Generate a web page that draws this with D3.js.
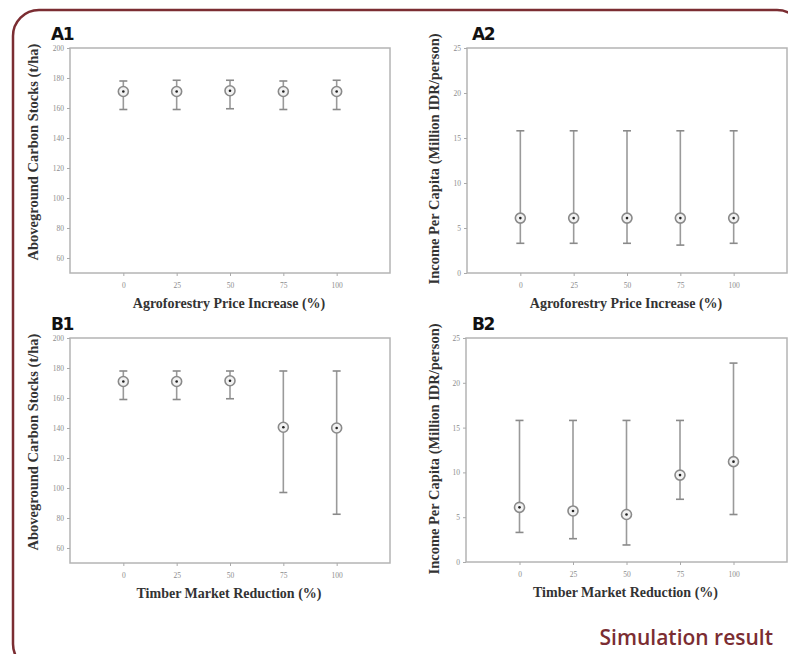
<!DOCTYPE html>
<html>
<head>
<meta charset="utf-8">
<script src="https://cdn.jsdelivr.net/npm/d3@7"></script>
<style>
  body { margin: 0; background: #fff; }
</style>
</head>
<body>
<div id="chart"></div>
<script>
// scenario levels (%)
var levels = [0, 25, 50, 75, 100];

// A1: carbon stocks, agroforestry price increase
var a1Mean = [171, 171, 171.5, 171, 171];
var a1Upper = [178, 178.5, 178.5, 178, 178.5];
var a1Lower = [159, 159, 159.5, 159, 159];

// A2: income per capita, agroforestry price increase
var a2Mean = [6.1, 6.1, 6.1, 6.1, 6.1];
var a2Upper = [15.8, 15.8, 15.8, 15.8, 15.8];
var a2Lower = [3.3, 3.3, 3.3, 3.1, 3.3];

// B1: carbon stocks, timber market reduction
var b1Mean = [171, 171, 171.5, 140.5, 140];
var b1Upper = [178, 178, 178, 178, 178];
var b1Lower = [159, 159, 159.5, 97, 82.5];

// B2: income per capita, timber market reduction
var b2Mean = [6.1, 5.7, 5.3, 9.7, 11.2];
var b2Upper = [15.8, 15.8, 15.8, 15.8, 22.2];
var b2Lower = [3.3, 2.6, 1.9, 7.0, 5.3];

var carbonTicks = [60, 80, 100, 120, 140, 160, 180, 200];
var incomeTicks = [0, 5, 10, 15, 20, 25];

var carbonTitle = "Aboveground Carbon Stocks (t/ha)";
var incomeTitle = "Income Per Capita (Million IDR/person)";
var priceTitle = "Agroforestry Price Increase (%)";
var timberTitle = "Timber Market Reduction (%)";

var W = 788, H = 654;
var svg = d3.select("#chart")
    .append("svg")
      .attr("width", W)
      .attr("height", H);

// frame around the slide
svg.append("rect")
    .attr("x", 13)
    .attr("y", 10)
    .attr("width", 790)
    .attr("height", 660)
    .attr("rx", 26)
    .attr("fill", "none")
    .attr("stroke", "#7b2d32")
    .attr("stroke-width", 2.5);

svg.append("text")
    .attr("x", 773)
    .attr("y", 645)
    .attr("text-anchor", "end")
    .style("font-family", "'Open Sans', sans-serif")
    .style("font-weight", 600)
    .style("font-size", "21px")
    .style("fill", "#7b2d32")
    .text("Simulation result");

var panels = [
  {label: "A1", left: 70, top: 48, w: 320, h: 225, domain: [50, 200], ticks: carbonTicks,
   mean: a1Mean, upper: a1Upper, lower: a1Lower, ytitle: carbonTitle, xtitle: priceTitle, ytx: 38, yty: 152},
  {label: "A2", left: 467, top: 48, w: 320, h: 225, domain: [0, 25], ticks: incomeTicks,
   mean: a2Mean, upper: a2Upper, lower: a2Lower, ytitle: incomeTitle, xtitle: priceTitle, ytx: 439, yty: 159},
  {label: "B1", left: 70, top: 338, w: 320, h: 225, domain: [50, 200], ticks: carbonTicks,
   mean: b1Mean, upper: b1Upper, lower: b1Lower, ytitle: carbonTitle, xtitle: timberTitle, ytx: 38, yty: 442},
  {label: "B2", left: 466, top: 338, w: 321, h: 224, domain: [0, 25], ticks: incomeTicks,
   mean: b2Mean, upper: b2Upper, lower: b2Lower, ytitle: incomeTitle, xtitle: timberTitle, ytx: 439, yty: 449}
];

panels.forEach(function(p) {
  var g = svg.append("g")
      .attr("transform", "translate(" + p.left + "," + p.top + ")");

  var x = d3.scaleLinear().domain([-25, 125]).range([0, p.w]);
  var y = d3.scaleLinear().domain(p.domain).range([p.h, 0]);

  // plot frame
  g.append("rect")
      .attr("width", p.w)
      .attr("height", p.h)
      .attr("fill", "none")
      .attr("stroke", "#b4b4b4")
      .attr("stroke-width", 1.5);

  var yAxis = g.append("g")
      .call(d3.axisLeft(y).tickValues(p.ticks).tickSize(3).tickPadding(3));
  var xAxis = g.append("g")
      .attr("transform", "translate(0," + p.h + ")")
      .call(d3.axisBottom(x).tickValues(levels).tickSize(3).tickPadding(7));
  [xAxis, yAxis].forEach(function(a) {
    a.select(".domain").remove();
    a.selectAll("line").attr("stroke", "#aaa");
    a.selectAll("text")
        .style("font-family", "'Liberation Serif', serif")
        .style("font-size", "7.5px")
        .style("fill", "#8c8c8c");
  });

  // error bars
  var bars = g.append("g").selectAll("g")
      .data(levels)
      .enter()
      .append("g");
  bars.append("line")
      .attr("x1", function(d) { return x(d); })
      .attr("x2", function(d) { return x(d); })
      .attr("y1", function(d, i) { return y(p.upper[i]); })
      .attr("y2", function(d, i) { return y(p.lower[i]); })
      .attr("stroke", "#9a9a9a")
      .attr("stroke-width", 1.6);
  ["upper", "lower"].forEach(function(k) {
    bars.append("line")
        .attr("x1", function(d) { return x(d) - 4; })
        .attr("x2", function(d) { return x(d) + 4; })
        .attr("y1", function(d, i) { return y(p[k][i]); })
        .attr("y2", function(d, i) { return y(p[k][i]); })
        .attr("stroke", "#8a8a8a")
        .attr("stroke-width", 1.6);
  });
  bars.append("circle")
      .attr("cx", function(d) { return x(d); })
      .attr("cy", function(d, i) { return y(p.mean[i]); })
      .attr("r", 5)
      .attr("fill", "#f2f2f2")
      .attr("stroke", "#8a8a8a")
      .attr("stroke-width", 1.6);
  bars.append("circle")
      .attr("cx", function(d) { return x(d); })
      .attr("cy", function(d, i) { return y(p.mean[i]); })
      .attr("r", 1.3)
      .attr("fill", "#222");

  // titles
  g.append("text")
      .attr("x", p.w / 2 - 1)
      .attr("y", p.h + 35)
      .attr("text-anchor", "middle")
      .style("font-family", "'Liberation Serif', serif")
      .style("font-weight", "bold")
      .style("font-size", "14px")
      .style("fill", "#333")
      .text(p.xtitle);

  svg.append("text")
      .attr("transform", "translate(" + p.ytx + "," + p.yty + ") rotate(-90)")
      .attr("text-anchor", "middle")
      .style("font-family", "'Liberation Serif', serif")
      .style("font-weight", "bold")
      .style("font-size", "14.5px")
      .style("fill", "#333")
      .text(p.ytitle);

  svg.append("text")
      .attr("x", p.left < 200 ? 51 : 472)
      .attr("y", p.top - 8)
      .style("font-family", "'DejaVu Sans', sans-serif")
      .style("font-weight", "bold")
      .style("font-size", "17px")
      .style("letter-spacing", "-1.5px")
      .style("fill", "#111")
      .text(p.label);
});
</script>
</body>
</html>
